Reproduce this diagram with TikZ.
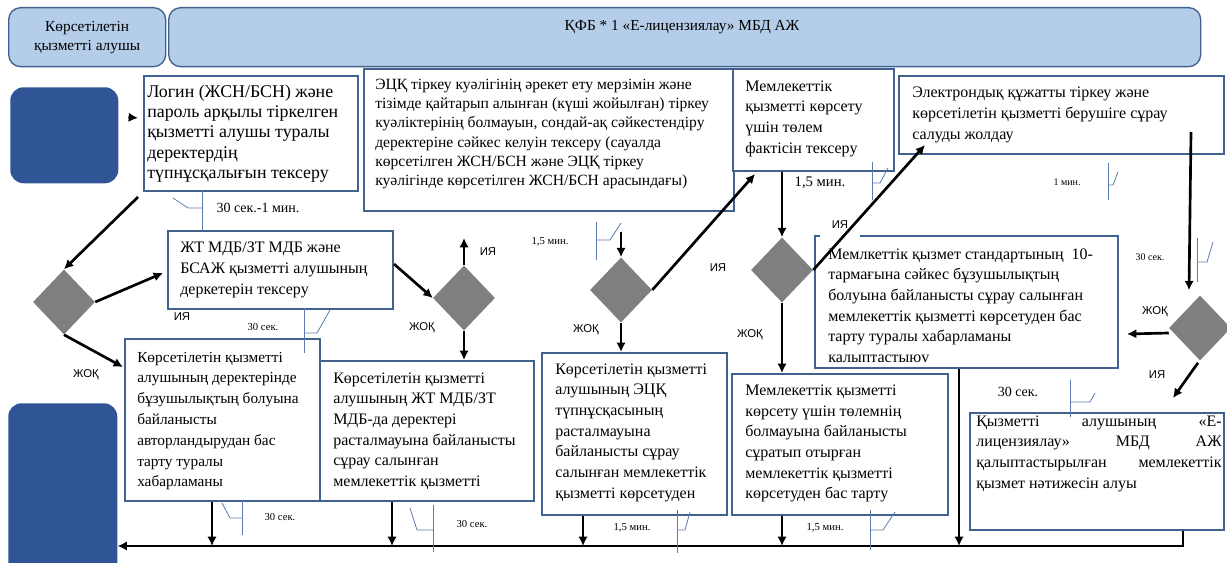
\documentclass[tikz,border=0pt]{standalone}
\usepackage{fontspec}
\setmainfont{Liberation Serif}
\newfontfamily\lsans{Liberation Sans}
\usetikzlibrary{shapes.geometric,calc,arrows.meta}
\definecolor{boxblue}{HTML}{41628E}
\definecolor{headblue}{HTML}{B4CDE9}
\definecolor{darkblue}{HTML}{2F5597}
\definecolor{rgray}{HTML}{7F7F7F}
\definecolor{calblue}{HTML}{5B7BAE}
\tikzset{
  blok/.style={draw=boxblue, line width=1.5pt, fill=white, anchor=north west, inner sep=0pt},
  matin/.style={anchor=west, align=left, inner sep=0pt, font=\fontsize{12}{15.5}\selectfont},
  shesh/.style={diamond, fill=rgray, inner sep=0pt, minimum width=46.5pt, minimum height=48.75pt},
  arr/.style={-{Latex[length=7pt,width=7pt]}, line width=2pt},
  kall/.style={draw=calblue, line width=0.6pt},
  zh/.style={font=\lsans\fontsize{8.5}{10}\selectfont, inner sep=1pt},
  uaq/.style={font=\fontsize{8}{10}\selectfont, inner sep=1pt},
  bas/.style={draw=boxblue, line width=1pt, fill=headblue, rounded corners=9pt, anchor=north west},
  shet/.style={fill=darkblue, rounded corners=10pt, anchor=north west}
}
\begin{document}
\begin{tikzpicture}[x=0.75pt, y=-0.75pt]
\useasboundingbox (0,0) rectangle (1227,563);
\clip (0,0) rectangle (1227,563);
% lanes
\node[bas, minimum width=117.75pt, minimum height=44.25pt, align=center,
  font=\fontsize{11.5}{14.25}\selectfont] (h1) at (8,7) {Көрсетілетін\\қызметті алушы};
\node[bas, minimum width=774pt, minimum height=44.25pt] (h2) at (168,7) {};
\node[font=\fontsize{11.5}{14}\selectfont] (h2t) at (682,27) {ҚФБ * 1 «Е-лицензиялау» МБД АЖ};
% start / end
\node[shet, minimum width=81pt, minimum height=72pt] (s1) at (10,87) {};
\node[shet, minimum width=81.75pt, minimum height=135pt] (s2) at (8,403) {};
% boxes
\node[blok, minimum width=160.5pt, minimum height=86.25pt] (b1) at (143,75) {};
\node[matin, font=\fontsize{13.4}{15.2}\selectfont] (b1t) at ($(b1.west)+(4,0)$)
  {Логин (ЖСН/БСН) және\\пароль арқылы тіркелген\\қызметті алушы туралы\\деректердің\\түпнұсқалығын тексеру};
\node[blok, minimum width=168.75pt, minimum height=58.5pt] (b2) at (167,230) {};
\node[matin] (b2t) at ($(b2.west)+(13,0)$)
  {ЖТ МДБ/ЗТ МДБ және\\БСАЖ қызметті алушының\\деркетерін тексеру};
\node[blok, minimum width=146.25pt, minimum height=121.5pt] (b3) at (124,338) {};
\node[matin, font=\fontsize{11.5}{15.6}\selectfont] (b3t) at ($(b3.west)+(13,1)$)
  {Көрсетілетін қызметті\\алушының деректерінде\\бұзушылықтың болуына\\байланысты\\авторландырудан бас\\тарту туралы\\хабарламаны};
\node[blok, minimum width=160.5pt, minimum height=105pt] (b4) at (319,360) {};
\node[matin] (b4t) at ($(b4.west)+(14,0)$)
  {Көрсетілетін қызметті\\алушының ЖТ МДБ/ЗТ\\МДБ-да деректері\\расталмауына байланысты\\сұрау салынған\\мемлекеттік қызметті};
\node[blok, minimum width=277.5pt, minimum height=106.5pt] (b5) at (363,68) {};
\node[matin, font=\fontsize{11.7}{14.3}\selectfont] (b5t) at ($(b5.west)+(12,-6)$)
  {ЭЦҚ тіркеу куәлігінің әрекет ету мерзімін және\\тізімде қайтарып алынған (күші жойылған) тіркеу\\куәліктерінің болмауын, сондай-ақ сәйкестендіру\\деректеріне сәйкес келуін тексеру (сауалда\\көрсетілген ЖСН/БСН және ЭЦҚ тіркеу\\куәлігінде көрсетілген ЖСН/БСН арасындағы)};
\node[blok, minimum width=120.75pt, minimum height=76.5pt] (b6) at (732,68) {};
\node[matin] (b6t) at ($(b6.west)+(13,-1.5)$)
  {Мемлекеттік\\қызметті көрсету\\үшін төлем\\фактісін тексеру};
\node[blok, minimum width=138.75pt, minimum height=121.5pt] (b7) at (541,352) {};
\node[matin] (b7t) at ($(b7.west)+(14,-1.5)$)
  {Көрсетілетін қызметті\\алушының ЭЦҚ\\түпнұсқасының\\расталмауына\\байланысты сұрау\\салынған мемлекеттік\\қызметті көрсетуден};
\node[blok, minimum width=243.75pt, minimum height=58.5pt] (b8) at (898,75) {};
\node[matin] (b8t) at ($(b8.west)+(14,0)$)
  {Электрондық құжатты тіркеу және\\көрсетілетін қызметті берушіге сұрау\\салуды жолдау};
\node[blok, minimum width=227.25pt, minimum height=99pt] (b9) at (814,235) {};
\node[matin] (b9t) at ($(b9.west)+(14,3.5)$)
  {Мемлкеттік қызмет стандартының~ 10-\\тармағына сәйкес бұзушылықтың\\болуына байланысты сұрау салынған\\мемлекеттік қызметті көрсетуден бас\\тарту туралы хабарламаны\\калыптастыюv};
\node[blok, minimum width=162pt, minimum height=105.75pt] (b10) at (731,373) {};
\node[matin] (b10t) at ($(b10.west)+(14,-1)$)
  {Мемлекеттік қызметті\\көрсету үшін төлемнің\\болмауына байланысты\\сұратып отырған\\мемлекеттік қызметті\\көрсетуден бас тарту};
\node[blok, minimum width=190.5pt, minimum height=87.75pt] (b11) at (969,412) {};
\node[matin] (b11t) at ($(b11.west)+(7,-18)$)
  {\parbox{184pt}{\hbox to\linewidth{Қызметті\hfill алушының\hfill «Е-}
  \hbox to\linewidth{лицензиялау»\hfill МБД\hfill АЖ}
  \hbox to\linewidth{қалыптастырылған\hfill мемлекеттік}
  \hbox{қызмет нәтижесін алуы}}};
% decisions
\node[shesh] (d1) at (64,302) {};
\node[shesh] (d2) at (464,298) {};
\node[shesh] (d3) at (621,290) {};
\node[shesh] (d4) at (782,270) {};
\node[shesh] (d5) at (1200,328) {};
% answers
\node[zh] (l1) at (182,317) {ИЯ};
\node[zh] (l2) at (86,375) {ЖОҚ};
\node[zh] (l3) at (488,252) {ИЯ};
\node[zh] (l4) at (422,328) {ЖОҚ};
\node[zh] (l5) at (586,330) {ЖОҚ};
\node[zh] (l6) at (718,268) {ИЯ};
\node[zh, fill=white, minimum width=30pt, minimum height=19pt] (l7) at (840,225) {ИЯ};
\node[zh] (l8) at (750,335) {ЖОҚ};
\node[zh] (l9) at (1155,312) {ЖОҚ};
\node[zh] (l10) at (1157,375) {ИЯ};
% arrows
\coordinate (u2) at (464,238);
\coordinate (c3) at (621,232);
\coordinate (kol) at (1183,546);
\draw[arr] ($(s1.east)+(10,-18)$) -- ($(b1.west)+(-5,-15.5)$);
\draw[arr] ($(b1.south west)+(-5,5)$) -- (d1.north);
\draw[arr] (d1.east) -- ($(b2.west)+(-4,3)$);
\draw[arr] (d1.south) -- ($(b3.north west)+(-1,29)$);
\draw[arr] ($(b2.east)+(0,-6)$) -- (d2.west);
\draw[arr] (d2.north) -- (u2);
\draw[arr] (d2.south) -- (d2.south |- b4.north);
\draw[arr] (c3) -- (d3.north);
\draw[arr] (d3.east) -- ($(b6.south west)+(23,2)$);
\draw[arr] (d3.south) -- (d3.south |- b7.north);
\draw[arr] (b6.south -| d4.north) -- (d4.north);
\draw[arr] (d4.east) -- ($(b8.south west)+(27,-10)$);
\draw[arr] (d4.south) -- (d4.south |- b10.north);
\draw[arr] ($(b8.south east)+(-34,-23)$) -- ($(d5.north)+(-11,-5)$);
\draw[arr] ($(d5.west)+(0,5)$) -- ($(b9.east)+(8,32)$);
\draw[arr] ($(d5.south)+(-2,2)$) -- ($(b11.north east)+(-52,-14)$);
\draw[arr] (b11.south -| kol) -- (kol) -- (s2.east |- kol);
\foreach \n/\x in {b3/212, b4/392, b7/583, b10/782, b9/959}
  \draw[arr] (\n.south -| \x,0) -- (\x,546);
% times
\foreach \vx/\vya/\vyb/\hy/\hx/\dx/\dy in {202/190/230/208/188/173/198, 304/308/353/333/317/330/310,
  596/222/260/240/610/621/223, 872/162/200/183/880/888/168, 1108/163/200/185/1113/1118/172,
  1197/238/282/262/1207/1213/242, 1070/380/417/402/1090/1095/393, 242/500/535/518/230/222/503,
  433/505/552/530/417/410/508, 677/510/553/530/685/690/512, 870/510/550/530/883/895/512} {
  \draw[kall] (\vx,\vya) -- (\vx,\vyb);
  \draw[kall] (\vx,\hy) -- (\hx,\hy) -- (\dx,\dy);
}
\node[uaq, font=\fontsize{10.5}{12}\selectfont] (t1) at (258,208) {30 сек.-1 мин.};
\node[uaq] (t2) at (263,327) {30 сек.};
\node[uaq] (t3) at (550,242) {1,5 мин.};
\node[uaq, font=\fontsize{11}{12}\selectfont] (t4) at (820,183) {1,5 мин.};
\node[uaq, font=\fontsize{7.5}{9}\selectfont] (t5) at (1067,182) {1 мин.};
\node[uaq, font=\fontsize{7.5}{9}\selectfont] (t6) at (1150,257) {30 сек.};
\node[uaq, font=\fontsize{10.5}{12}\selectfont] (t7) at (1018,392) {30 сек.};
\node[uaq] (t8) at (280,517) {30 сек.};
\node[uaq] (t9) at (472,524) {30 сек.};
\node[uaq] (t10) at (632,528) {1,5 мин.};
\node[uaq] (t11) at (825,528) {1,5 мин.};
\end{tikzpicture}
\end{document}
